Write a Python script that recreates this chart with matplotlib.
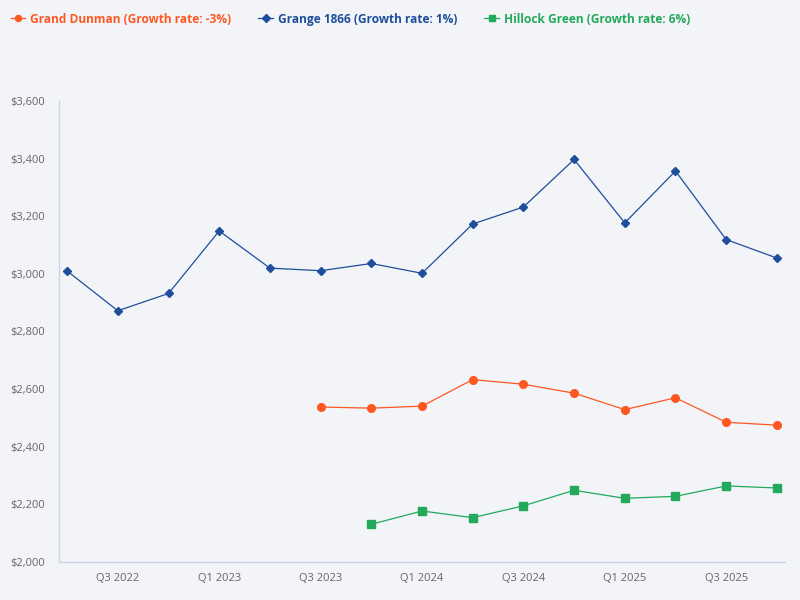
import numpy as np
import matplotlib.pyplot as plt

plt.rcParams['font.family'] = ['Open Sans', 'DejaVu Sans']

quarters = ['Q2 2022', 'Q3 2022', 'Q4 2022', 'Q1 2023', 'Q2 2023', 'Q3 2023', 'Q4 2023',
            'Q1 2024', 'Q2 2024', 'Q3 2024', 'Q4 2024', 'Q1 2025', 'Q2 2025', 'Q3 2025', 'Q4 2025']

grange = [3010, 2872, 2932, 3149, 3020, 3011, 3036, 3002, 3173, 3232, 3397, 3177, 3357, 3119, 3055]
dunman = [np.nan] * 5 + [2538, 2534, 2541, 2633, 2617, 2586, 2529, 2570, 2485, 2475]
hillock = [np.nan] * 6 + [2131, 2177, 2154, 2195, 2249, 2221, 2228, 2264, 2257]

labels = ['Grand Dunman (Growth rate: -3%)', 'Grange 1866 (Growth rate: 1%)',
          'Hillock Green (Growth rate: 6%)']
colors = ['#ff5722', '#1f4e9c', '#22a95c']

bg = '#f2f4f7'
fig = plt.figure(figsize=(8, 6), dpi=100, facecolor=bg)
ax = fig.add_axes([0.07375, 0.0633, 0.9075, 0.7684], facecolor=bg)

x = np.arange(len(quarters))
l1, = ax.plot(x, dunman, color=colors[0], marker='o', markersize=5.5, linewidth=0.9)
l2, = ax.plot(x, grange, color=colors[1], marker='D', markersize=4.5, linewidth=0.9)
l3, = ax.plot(x, hillock, color=colors[2], marker='s', markersize=5.5, linewidth=0.9)

ax.set_xlim(-0.16, len(quarters) - 1 + 0.16)
ax.set_ylim(2000, 3600)
ax.set_yticks(range(2000, 3601, 200))
ax.set_yticklabels(['${:,}'.format(v) for v in range(2000, 3601, 200)])
ax.set_xticks(x[1::2])
ax.set_xticklabels(quarters[1::2])
ax.tick_params(length=0, labelsize=8, colors='#666666', pad=8)
ax.tick_params(axis='y', pad=10)

for s in ['top', 'right']:
    ax.spines[s].set_visible(False)
for s in ['left', 'bottom']:
    ax.spines[s].set_color('#c9d6e8')
    ax.spines[s].set_linewidth(1)

leg = fig.legend([l1, l2, l3], labels, loc='upper left', bbox_to_anchor=(0.0, 0.997),
                 ncol=3, frameon=False, handlelength=1.2, handletextpad=0.4,
                 columnspacing=2.3, markerscale=0.8, prop={'weight': 'bold', 'size': 8.6})
for txt, c in zip(leg.get_texts(), colors):
    txt.set_color(c)

fig.savefig('out.png', dpi=100, facecolor=bg)
